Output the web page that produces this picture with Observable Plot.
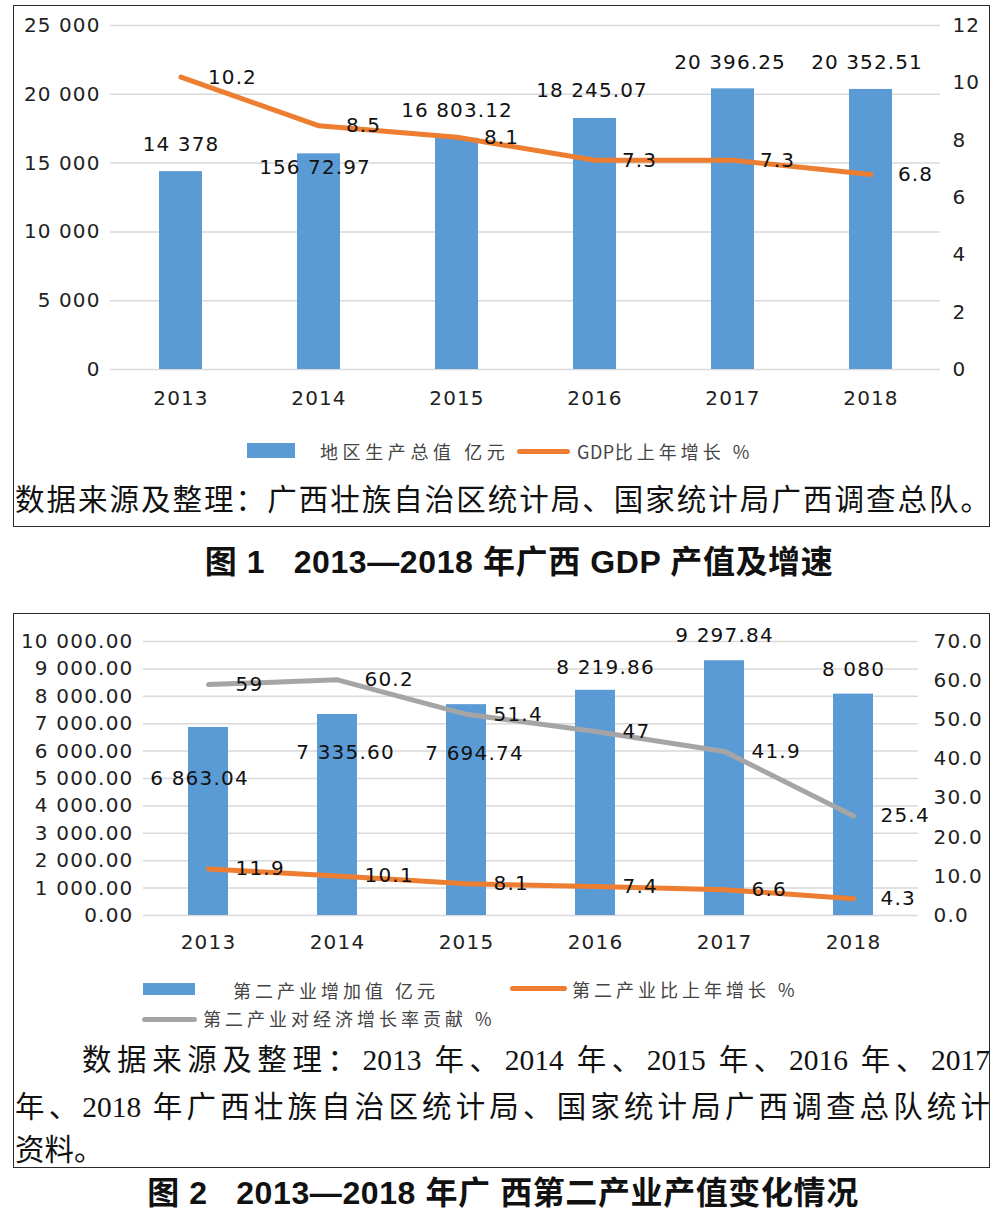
<!DOCTYPE html>
<html><head><meta charset="utf-8">
<script src="https://cdn.jsdelivr.net/npm/d3@7"></script>
<script src="https://cdn.jsdelivr.net/npm/@observablehq/plot@0.6"></script>
<style>
html,body{margin:0;padding:0;background:#fff;}
#page{position:relative;width:995px;height:1218px;overflow:hidden;font-family:"Noto Sans CJK SC",sans-serif;}
#page svg{position:absolute;left:0;}
.box{position:absolute;border:1.6px solid #2a2a2a;box-sizing:border-box;}
.leg{position:absolute;font-family:"Noto Sans CJK SC";font-size:18px;letter-spacing:4px;color:#444;line-height:22px;height:22px;white-space:nowrap;}
.leg .lat{letter-spacing:0.5px;}
.sw{position:absolute;}
.cap{position:absolute;font-family:"Liberation Serif","Noto Sans CJK SC";font-size:29.5px;line-height:40px;height:40px;color:#111;text-align:justify;text-align-last:justify;text-justify:inter-character;}
.title{position:absolute;font-family:"Liberation Sans","Noto Sans CJK SC";font-weight:bold;font-size:32px;letter-spacing:0.6px;line-height:40px;height:40px;color:#111;white-space:pre;text-align:center;}
</style></head><body><div id="page"></div>
<script>
// ---------- data ----------
const years = ["2013", "2014", "2015", "2016", "2017", "2018"];

// Figure 1
const gdp = [14378, 15672.97, 16803.12, 18245.07, 20396.25, 20352.51];
const gdpLabels = ["14 378", "156 72.97", "16 803.12", "18 245.07", "20 396.25", "20 352.51"];
const gdpGrowth = [10.2, 8.5, 8.1, 7.3, 7.3, 6.8];
const leftTicks1 = [0, 5000, 10000, 15000, 20000, 25000];
const rightTicks1 = [0, 2, 4, 6, 8, 10, 12];

// Figure 2
const secondary = [6863.04, 7335.60, 7694.74, 8219.86, 9297.84, 8080];
const secondaryLabels = ["6 863.04", "7 335.60", "7 694.74", "8 219.86", "9 297.84", "8 080"];
const secondaryGrowth = [11.9, 10.1, 8.1, 7.4, 6.6, 4.3];
const contribution = [59, 60.2, 51.4, 47, 41.9, 25.4];
const leftTicks2 = [0, 1000, 2000, 3000, 4000, 5000, 6000, 7000, 8000, 9000, 10000];
const rightTicks2 = [0, 10, 20, 30, 40, 50, 60, 70];

const legend1 = ["地区生产总值 亿元", "<span class='lat'>GDP</span>比上年增长 %"];
const legend2 = ["第二产业增加值 亿元", "第二产业比上年增长 %", "第二产业对经济增长率贡献 %"];
const caption1 = "数据来源及整理：广西壮族自治区统计局、国家统计局广西调查总队。";
const caption2 = ["数据来源及整理：2013 年、2014 年、2015 年、2016 年、2017", "年、2018 年广西壮族自治区统计局、国家统计局广西调查总队统计", "资料。"];
const title1 = "图 1   2013—2018 年广西 GDP 产值及增速";
const title2 = "图 2   2013—2018 年广 西第二产业产值变化情况";

// ---------- styles ----------
const BLUE = "#5B9BD5", ORANGE = "#ED7D31", GRAY = "#A5A5A5", GRID = "#d9d9d9";
const spaceFmt = f => d => f(d).replace(/,/g, " ");
const page = document.getElementById("page");

function add(html) { page.insertAdjacentHTML("beforeend", html); }

// ---------- Figure 1 ----------
const k1 = 25000 / 12;
const t1 = years.map((y, i) => ({year: y, v: gdp[i], label: gdpLabels[i], g: gdpGrowth[i], gs: gdpGrowth[i] * k1}));
const off1 = [[0, -27], [-4, 14], [0, -28], [-3, -28], [-3, -26], [-4, -27]];

const plot1 = Plot.plot({
  width: 995, height: 420,
  marginLeft: 110, marginRight: 55, marginTop: 25, marginBottom: 51,
  style: {fontFamily: "DejaVu Sans", fontSize: "20px", color: "#222", letterSpacing: "1.1px", background: "transparent"},
  x: {domain: years, paddingInner: 0.69, paddingOuter: 0.345},
  y: {domain: [0, 25000]},
  marks: [
    Plot.gridY(leftTicks1, {stroke: GRID, strokeOpacity: 1, strokeWidth: 1.5}),
    Plot.barY(t1, {x: "year", y: "v", fill: BLUE}),
    Plot.line(t1, {x: "year", y: "gs", stroke: ORANGE, strokeWidth: 5, strokeLinejoin: "round", strokeLinecap: "round"}),
    Plot.axisY(leftTicks1, {tickSize: 0, tickPadding: 10, tickFormat: spaceFmt(d3.format(",")), label: null}),
    Plot.axisY(rightTicks1.map(v => v * k1), {anchor: "right", tickSize: 0, tickPadding: 12, tickFormat: d => String(Math.round(d / k1)), label: null}),
    Plot.axisX({tickSize: 0, tickPadding: 21, label: null}),
    ...t1.map((d, i) => Plot.text([d], {x: "year", y: "v", text: "label", dx: off1[i][0], dy: off1[i][1], fill: "#111"})),
    Plot.text(t1, {x: "year", y: "gs", text: d => String(d.g), textAnchor: "start", dx: 27, fill: "#111"})
  ]
});
plot1.style.top = "0px";
page.appendChild(plot1);

add(`<div class="box" style="left:13px;top:5px;width:977px;height:522px;"></div>`);
add(`<div class="sw" style="left:247px;top:443px;width:48px;height:15px;background:${BLUE};"></div>`);
add(`<div class="leg" style="left:320px;top:440px;letter-spacing:4.6px;">${legend1[0]}</div>`);
add(`<div class="sw" style="left:517px;top:448.5px;width:53px;height:5px;border-radius:2.5px;background:${ORANGE};"></div>`);
add(`<div class="leg" style="left:577px;top:440px;">${legend1[1]}</div>`);
add(`<div class="cap" style="left:15px;top:480px;width:975px;">${caption1}</div>`);
add(`<div class="title" style="left:119px;top:542px;width:800px;">${title1}</div>`);

// ---------- Figure 2 ----------
const k2 = 10000 / 70;
const t2 = years.map((y, i) => ({year: y, v: secondary[i], label: secondaryLabels[i], g: secondaryGrowth[i], gs: secondaryGrowth[i] * k2, c: contribution[i], cs: contribution[i] * k2}));
const off2 = [[-9, 51], [8, 38], [8, 49], [10, -23], [0, -25], [0, -25]];

const plot2 = Plot.plot({
  width: 995, height: 340,
  marginLeft: 143, marginRight: 77, marginTop: 28, marginBottom: 38,
  style: {fontFamily: "DejaVu Sans", fontSize: "20px", color: "#222", letterSpacing: "1.2px", background: "transparent"},
  x: {domain: years, paddingInner: 0.69, paddingOuter: 0.345},
  y: {domain: [0, 10000]},
  marks: [
    Plot.gridY(leftTicks2, {stroke: GRID, strokeOpacity: 1, strokeWidth: 1.5}),
    Plot.barY(t2, {x: "year", y: "v", fill: BLUE}),
    Plot.line(t2, {x: "year", y: "cs", stroke: GRAY, strokeWidth: 5, strokeLinejoin: "round", strokeLinecap: "round"}),
    Plot.line(t2, {x: "year", y: "gs", stroke: ORANGE, strokeWidth: 5, strokeLinejoin: "round", strokeLinecap: "round"}),
    Plot.axisY(leftTicks2, {tickSize: 0, tickPadding: 10, tickFormat: spaceFmt(d3.format(",.2f")), label: null}),
    Plot.axisY(rightTicks2.map(v => v * k2), {anchor: "right", tickSize: 0, tickPadding: 15, tickFormat: d => (d / k2).toFixed(1), label: null}),
    Plot.axisX({tickSize: 0, tickPadding: 19, label: null}),
    ...t2.map((d, i) => Plot.text([d], {x: "year", y: "v", text: "label", dx: off2[i][0], dy: off2[i][1], fill: "#111"})),
    Plot.text(t2, {x: "year", y: "cs", text: d => String(d.c), textAnchor: "start", dx: 27, fill: "#111"}),
    Plot.text(t2, {x: "year", y: "gs", text: d => String(d.g), textAnchor: "start", dx: 27, fill: "#111"})
  ]
});
plot2.style.top = "613px";
page.appendChild(plot2);

add(`<div class="box" style="left:13px;top:613px;width:977px;height:555px;"></div>`);
add(`<div class="sw" style="left:143px;top:983px;width:52px;height:12px;background:${BLUE};"></div>`);
add(`<div class="leg" style="left:233px;top:979px;">${legend2[0]}</div>`);
add(`<div class="sw" style="left:510px;top:986px;width:57px;height:5px;border-radius:2.5px;background:${ORANGE};"></div>`);
add(`<div class="leg" style="left:572px;top:978px;">${legend2[1]}</div>`);
add(`<div class="sw" style="left:142px;top:1017px;width:55px;height:5px;border-radius:2.5px;background:${GRAY};"></div>`);
add(`<div class="leg" style="left:203px;top:1007px;">${legend2[2]}</div>`);
add(`<div class="cap" style="left:82px;top:1040px;width:908px;">${caption2[0]}</div>`);
add(`<div class="cap" style="left:15px;top:1087px;width:975px;">${caption2[1]}</div>`);
add(`<div class="cap" style="left:15px;top:1130px;width:200px;text-align:left;text-align-last:left;">${caption2[2]}</div>`);
add(`<div class="title" style="left:103px;top:1173px;width:800px;">${title2}</div>`);
</script>
</body></html>
